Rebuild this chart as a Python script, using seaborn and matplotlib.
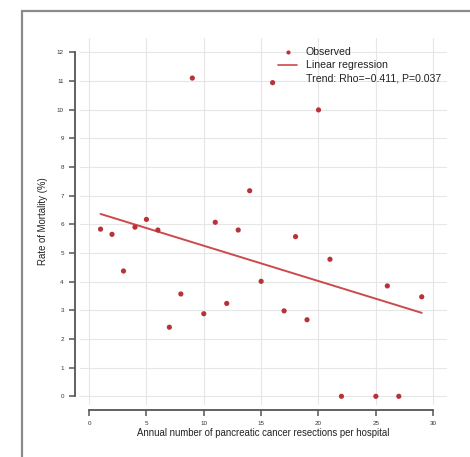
import numpy as np
import pandas as pd
import matplotlib
matplotlib.use("Agg")
import matplotlib.pyplot as plt
from matplotlib.lines import Line2D
from matplotlib.patches import Rectangle
import seaborn as sns

# annual resections per hospital vs. mortality rate (%)
resections = [1, 2, 3, 4, 5, 6, 7, 8, 9, 10, 11, 12, 13, 14, 15, 16, 17,
              18, 19, 20, 21, 22, 25, 26, 27, 29]
mortality = [5.83, 5.65, 4.37, 5.9, 6.17, 5.8, 2.41, 3.57, 11.1, 2.88, 6.07,
             3.24, 5.8, 7.17, 4.01, 10.94, 2.98, 5.57, 2.67, 9.99, 4.78,
             0.0, 0.0, 3.85, 0.0, 3.47]
x_ticks = [0, 5, 10, 15, 20, 25, 30]
y_ticks = list(range(0, 13))
trend_text = "Trend: Rho=\u22120.411, P=0.037"

df = pd.DataFrame({"resections": resections, "mortality": mortality})

sns.set_style("white")
plt.rcParams["font.family"] = ["Liberation Sans", "DejaVu Sans"]

fig = plt.figure(figsize=(4.70, 4.57), dpi=100)
ax = fig.add_axes([0.170, 0.114, 0.781, 0.803])

# outer frame (cropped figure panel)
fig.patches.append(Rectangle((22 / 470, -0.2), 1.2, 1.2 - 11 / 457,
                             transform=fig.transFigure, fill=False,
                             edgecolor="#8a8a8a", linewidth=1.6, zorder=0))

point_col = "#B8323A"
line_col = "#CC4A4A"

sns.regplot(data=df, x="resections", y="mortality", ax=ax, ci=None,
            truncate=True, scatter=False,
            line_kws={"color": line_col, "linewidth": 1.4})
sns.scatterplot(data=df, x="resections", y="mortality", ax=ax,
                color=point_col, s=14, edgecolor="none", zorder=3)

ax.set_xlim(-0.8, 31.2)
ax.set_ylim(-0.3, 12.5)
ax.set_xticks(x_ticks)
ax.set_yticks(y_ticks)
ax.grid(True, color="#e6e6e6", linewidth=0.8)
ax.set_axisbelow(True)

for side in ["top", "right"]:
    ax.spines[side].set_visible(False)
for side in ["left", "bottom"]:
    ax.spines[side].set_position(("outward", 3.6))
    ax.spines[side].set_color("#555555")
    ax.spines[side].set_linewidth(1.3)
ax.spines["left"].set_bounds(0, 12)
ax.spines["bottom"].set_bounds(0, 30)
ax.tick_params(axis="both", length=4, width=1.1, color="#555555",
               labelsize=4.5, labelcolor="#333333", pad=4)
ax.tick_params(axis="y", direction="out", left=True)
ax.tick_params(axis="x", direction="out", bottom=True)

ax.set_xlabel("Annual number of pancreatic cancer resections per hospital",
              fontsize=6.9, color="#222222", labelpad=1.5)
ax.set_ylabel("Rate of Mortality (%)", fontsize=6.9, color="#222222",
              labelpad=6)

handles = [
    Line2D([], [], linestyle="none", marker="o", markersize=3,
           color=point_col, markeredgewidth=0),
    Line2D([], [], color=line_col, linewidth=1.2),
    Line2D([], [], linestyle="none"),
]
labels = ["Observed", "Linear regression", trend_text]
ax.legend(handles, labels, loc="upper left", bbox_to_anchor=(0.515, 1.0),
          frameon=False, fontsize=7.6, handlelength=1.8, handletextpad=0.8,
          labelspacing=0.28, labelcolor="#222222")

fig.savefig("out.png", dpi=100)
